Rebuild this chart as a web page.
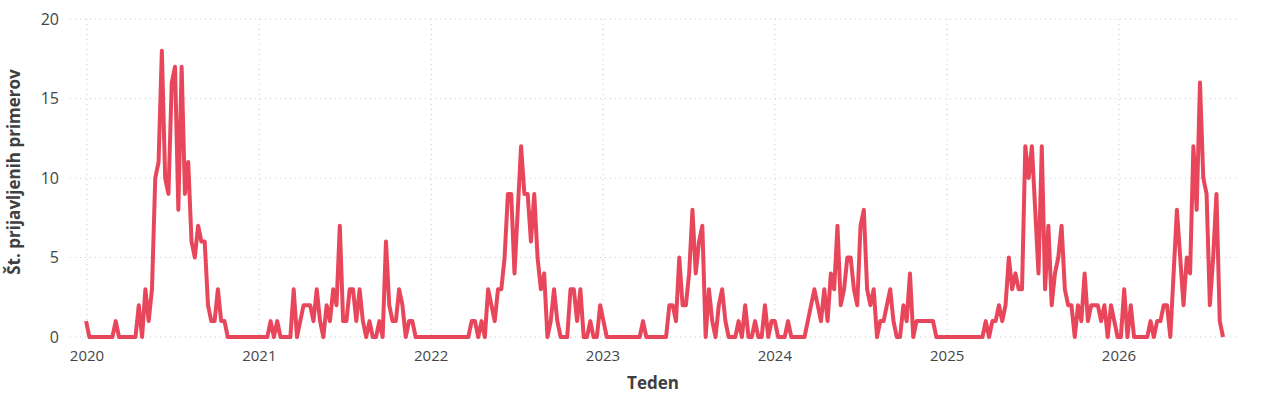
<!DOCTYPE html>
<html>
<head>
<meta charset="utf-8">
<script src="https://cdn.jsdelivr.net/npm/d3@7"></script>
<style>
  body { margin: 0; background: #fff; }
  svg { display: block; font-family: "Segoe UI", "Open Sans", sans-serif; }
  .grid line { stroke: #c8c8c8; stroke-width: 1; stroke-dasharray: 1 4; }
  .tick-label { fill: #454545; font-size: 16px; }
  .axis-title { fill: #404040; font-size: 17px; font-weight: bold; }
  .series { fill: none; stroke: #e8475b; stroke-width: 4; stroke-linejoin: round; }
</style>
</head>
<body>
<svg id="chart"></svg>
<script>
// weekly counts, first week starts Monday 2019-12-30
const cases2020 = [1,0,0,0,0,0,0,0,0,1,0,0,0,0,0,0,2,0,3,1,3,10,11,18,10,9,16,17,8,17,9,11,6,5,7,6,6,2,1,1,3,1,1,0,0,0,0,0,0,0,0,0,0];
const cases2021 = [0,0,0,1,0,1,0,0,0,0,3,0,1,2,2,2,1,3,1,0,2,1,3,2,7,1,1,3,3,1,3,1,0,1,0,0,1,0,6,2,1,1,3,2,0,1,1,0,0,0,0,0];
const cases2022 = [0,0,0,0,0,0,0,0,0,0,0,0,1,1,0,1,0,3,2,1,3,3,5,9,9,4,8,12,9,9,6,9,5,3,4,0,1,3,1,0,0,0,3,3,1,3,0,0,1,0,0,2];
const cases2023 = [1,0,0,0,0,0,0,0,0,0,0,0,1,0,0,0,0,0,0,0,2,2,1,5,2,2,4,8,4,6,7,0,3,1,0,2,3,1,0,0,0,1,0,2,0,0,1,0,0,2,0,1];
const cases2024 = [1,0,0,0,1,0,0,0,0,0,1,2,3,2,1,3,1,4,3,7,2,3,5,5,3,2,7,8,3,2,3,0,1,1,2,3,1,0,0,2,1,4,0,1,1,1,1,1,1,0,0,0];
const cases2025 = [0,0,0,0,0,0,0,0,0,0,0,0,1,0,1,1,2,1,2,5,3,4,3,3,12,10,12,8,4,12,3,7,2,4,5,7,3,2,2,0,2,1,4,1,2,2,2,1,2,0,2,1];
const cases2026 = [0,0,3,0,2,0,0,0,0,0,1,0,1,1,2,2,0,4,8,5,2,5,4,12,8,16,10,9,2,5,9,1,0];

const yearTicks = [2020, 2021, 2022, 2023, 2024, 2025, 2026];
const yTicks = [0, 5, 10, 15, 20];
const firstWeek = new Date(2019, 11, 30);

const chartSize = { width: 1277, height: 400 };
const plot = { left: 70, right: 1236, top: 19, bottom: 337 };

const counts = [].concat(cases2020, cases2021, cases2022, cases2023, cases2024, cases2025, cases2026);
const weeks = counts.map((c, i) => ({ date: d3.timeMonday.offset(firstWeek, i), count: c }));

const svg = d3
  .select("#chart")
  .attr("width", chartSize.width)
  .attr("height", chartSize.height);

const x = d3
  .scaleTime()
  .domain([new Date(2020, 0, 1), new Date(2026, 0, 1)])
  .range([87, 1119]);

const y = d3
  .scaleLinear()
  .domain([0, 20])
  .range([plot.bottom, plot.top]);

const grid = svg.append("g").attr("class", "grid");

grid
  .selectAll(".h")
  .data(yTicks)
  .enter()
  .append("line")
  .attr("x1", plot.left)
  .attr("x2", plot.right)
  .attr("y1", d => y(d))
  .attr("y2", d => y(d));

grid
  .selectAll(".v")
  .data(yearTicks)
  .enter()
  .append("line")
  .attr("x1", d => x(new Date(d, 0, 1)))
  .attr("x2", d => x(new Date(d, 0, 1)))
  .attr("y1", plot.top)
  .attr("y2", plot.bottom);

svg
  .append("g")
  .selectAll("text")
  .data(yTicks)
  .enter()
  .append("text")
  .attr("class", "tick-label")
  .attr("x", 59)
  .attr("y", d => y(d))
  .attr("dy", "0.35em")
  .attr("text-anchor", "end")
  .text(d => d);

svg
  .append("g")
  .selectAll("text")
  .data(yearTicks)
  .enter()
  .append("text")
  .attr("class", "tick-label")
  .attr("x", d => x(new Date(d, 0, 1)))
  .attr("y", 361)
  .attr("text-anchor", "middle")
  .style("font-size", "15px")
  .text(d => d);

svg
  .append("text")
  .attr("class", "axis-title")
  .attr("x", 653)
  .attr("y", 389)
  .attr("text-anchor", "middle")
  .text("Teden");

svg
  .append("text")
  .attr("class", "axis-title")
  .attr("transform", "rotate(-90)")
  .attr("x", -172)
  .attr("y", 20)
  .attr("text-anchor", "middle")
  .text("Št. prijavljenih primerov");

const line = d3
  .line()
  .x(d => x(d.date))
  .y(d => y(d.count));

svg
  .append("path")
  .attr("class", "series")
  .attr("d", line(weeks));
</script>
</body>
</html>
